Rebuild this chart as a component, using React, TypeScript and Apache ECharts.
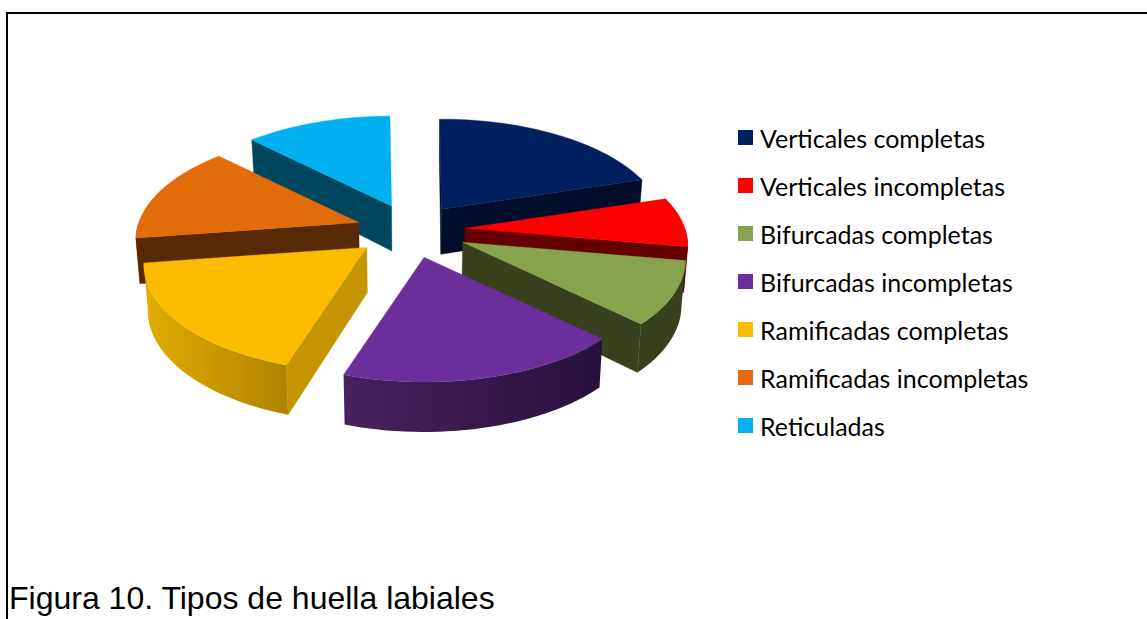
import React, { useEffect, useRef } from "react";
import * as echarts from "echarts";

const categories = [
  "Verticales completas",
  "Verticales incompletas",
  "Bifurcadas completas",
  "Bifurcadas incompletas",
  "Ramificadas completas",
  "Ramificadas incompletas",
  "Reticuladas",
];
const values = [20.4, 7.5, 9.5, 17.8, 17.7, 14.8, 12.4];
const topColors = ["#002060", "#FF0000", "#88A34D", "#6C2F9C", "#FBBC00", "#E26B0A", "#00B0F0"];
const wallColors = ["#000D2B", "#640000", "#38401E", "#2A1240", "#C49500", "#572904", "#00465F"];
const rimFrom = ["#000D2B", "#640000", "#38401E", "#48215F", "#E3AC00", "#572904", "#00465F"];
const rimTo = ["#000D2B", "#640000", "#38401E", "#28113C", "#AE8300", "#572904", "#00465F"];
const paintOrder = [0, 6, 1, 5, 2, 4, 3];
const nudgeX = [-1.5, 0, 3.5, 0, -3, -1, 1.5];
const nudgeY = [0, -1, -1, 0, -1, 0, 0];

const CX = 411, CY = 231, RX = 220, RY = 104.6, K = 0.162;
const EX = 54, EY = 27, START = -0.5, TH = 45, THF = 5;
const rad = (d: number) => (d * Math.PI) / 180;
const total = values.reduce((a, b) => a + b, 0);

function sliceAngles(i: number) {
  let a = START;
  for (let j = 0; j < i; j++) a += (values[j] / total) * 360;
  return [a, a + (values[i] / total) * 360];
}

function buildSlice(i: number) {
  const [a0, a1] = sliceAngles(i);
  const mid = rad((a0 + a1) / 2);
  const ox = CX + EX * Math.sin(mid) + nudgeX[i];
  const oy = CY - EY * Math.cos(mid) + nudgeY[i];
  const top = (deg: number) => {
    const vx = Math.sin(rad(deg)), vy = -Math.cos(rad(deg));
    const w = 1 / (1 - K * vy);
    return [ox + RX * vx * w, oy + RY * vy * w];
  };
  const down = (p: number[], vy: number) => [CX + (p[0] - CX) * 0.985, p[1] + TH + THF * vy];
  const arc = (from: number, to: number) => {
    const n = Math.max(2, Math.ceil(Math.abs(to - from) / 2));
    const pts: number[][] = [];
    for (let s = 0; s <= n; s++) pts.push(top(from + ((to - from) * s) / n));
    return pts;
  };
  const apex = [ox, oy];
  const apexB = down(apex, 0);
  const children: any[] = [];
  const poly = (points: number[][], fill: any) => ({
    type: "polygon",
    shape: { points },
    style: { fill, stroke: fill, lineWidth: 0.4 },
  });
  const wall = (deg: number) => {
    const p = top(deg);
    return poly([apex, p, down(p, -Math.cos(rad(deg))), apexB], wallColors[i]);
  };
  if (Math.sin(rad(a0)) < 0) children.push(wall(a0));
  if (Math.sin(rad(a1)) > 0) children.push(wall(a1));
  const r0 = Math.max(a0, 90), r1 = Math.min(a1, 270);
  if (r1 > r0) {
    const upper = arc(r0, r1);
    const lower = upper
      .map((p, s) => down(p, -Math.cos(rad(r0 + ((r1 - r0) * s) / (upper.length - 1)))))
      .reverse();
    const fill = new echarts.graphic.LinearGradient(0, 0, 1, 0, [
      { offset: 0, color: rimFrom[i] },
      { offset: 1, color: rimTo[i] },
    ]);
    children.push({
      type: "polygon",
      shape: { points: [...upper, ...lower] },
      style: { fill },
    });
  }
  children.push(poly([apex, ...arc(a0, a1)], topColors[i]));
  return { type: "group", children };
}

export default function App() {
  const ref = useRef<HTMLDivElement>(null);
  useEffect(() => {
    const chart = echarts.init(ref.current!, null, { renderer: "svg" });
    chart.setOption({
      animation: false,
      backgroundColor: "#fff",
      title: {
        text: "Figura 10. Tipos de huella labiales",
        left: 9,
        top: 582,
        padding: 0,
        textStyle: { fontFamily: "Liberation Sans", fontSize: 32, fontWeight: "normal", color: "#000" },
      },
      legend: {
        orient: "vertical",
        left: 738,
        top: 125,
        padding: 0,
        itemWidth: 15,
        itemHeight: 15,
        itemGap: 23,
        icon: "rect",
        selectedMode: false,
        data: categories,
        textStyle: { fontFamily: "Lato", fontSize: 25, color: "#000", lineHeight: 24, padding: [0, 0, 0, 2] },
      },
      graphic: [
        { type: "line", shape: { x1: 6, y1: 13, x2: 1147, y2: 13 }, style: { stroke: "#000", lineWidth: 2 } },
        { type: "line", shape: { x1: 7, y1: 13, x2: 7, y2: 619 }, style: { stroke: "#000", lineWidth: 2 } },
      ],
      series: paintOrder.map((i) => ({
        type: "custom",
        name: categories[i],
        coordinateSystem: "none",
        itemStyle: { color: topColors[i] },
        data: [values[i]],
        renderItem: () => buildSlice(i),
      })),
    });
    return () => chart.dispose();
  }, []);
  return <div ref={ref} style={{ position: "absolute", left: 0, top: 0, width: 1147, height: 619 }} />;
}
